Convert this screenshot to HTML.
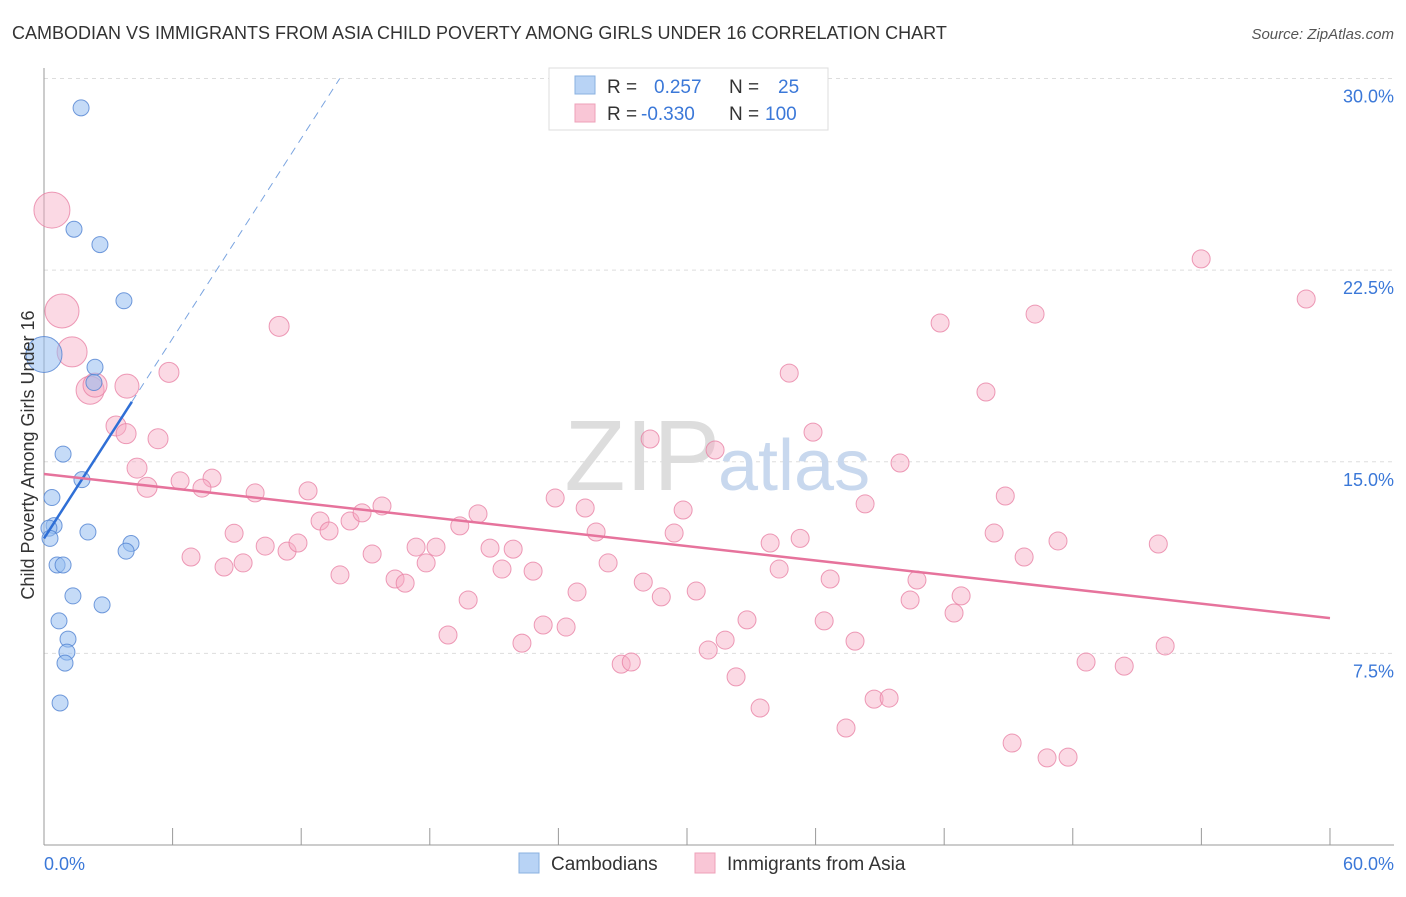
<!DOCTYPE html>
<html><head><meta charset="utf-8">
<style>
body{margin:0;background:#fff;font-family:"Liberation Sans",sans-serif;}
svg text{font-family:"Liberation Sans",sans-serif;}
</style></head>
<body>
<svg id="chart" width="1406" height="892" xmlns="http://www.w3.org/2000/svg">
<text x="12" y="39" font-size="18" fill="#333">CAMBODIAN VS IMMIGRANTS FROM ASIA CHILD POVERTY AMONG GIRLS UNDER 16 CORRELATION CHART</text>
<text x="1394" y="39" font-size="15" fill="#555" font-style="italic" text-anchor="end">Source: ZipAtlas.com</text>
<g id="grid"></g>
<g id="axes"></g>
<text x="720" y="490" font-size="100" fill="#ddd" text-anchor="end" font-family="Liberation Serif">ZIP</text>
<text x="718" y="490" font-size="72" fill="#c8d8ee">atlas</text>
<g id="pink"></g>
<g id="blue"></g>
<g id="trends"></g>
<text transform="translate(34,455) rotate(-90)" font-size="18" fill="#333" text-anchor="middle">Child Poverty Among Girls Under 16</text>
<text x="44" y="870" font-size="18" fill="#3b78d8">0.0%</text>
<text x="1394" y="870" font-size="18" fill="#3b78d8" text-anchor="end">60.0%</text>
<g>
<rect x="549" y="68" width="279" height="62" fill="#fff" stroke="#ddd"/>
<rect x="575" y="76" width="20" height="18" fill="#b8d3f5" stroke="#8ab0e0"/>
<rect x="575" y="104" width="20" height="18" fill="#f9c6d6" stroke="#eea0b8"/>
<text x="607" y="93" font-size="19" fill="#333">R =</text><text x="654" y="93" font-size="19" fill="#3b78d8">0.257</text>
<text x="729" y="93" font-size="19" fill="#333">N =</text><text x="778" y="93" font-size="19" fill="#3b78d8">25</text>
<text x="607" y="120" font-size="19" fill="#333">R =</text><text x="641" y="120" font-size="19" fill="#3b78d8">-0.330</text>
<text x="729" y="120" font-size="19" fill="#333">N =</text><text x="765" y="120" font-size="19" fill="#3b78d8">100</text>
</g>
<g>
<rect x="519" y="853" width="20" height="20" fill="#b8d3f5" stroke="#8ab0e0"/>
<text x="551" y="870" font-size="19" fill="#333">Cambodians</text>
<text x="727" y="870" font-size="19" fill="#333">Immigrants from Asia</text>
<rect x="695" y="853" width="20" height="20" fill="#f9c6d6" stroke="#eea0b8"/>
</g>
</svg>
<script>
const yTicks=[7.5,15,22.5,30];
const xTicks=[0,6,12,18,24,30,36,42,48,54,60];
const blueX=[1.73,1.40,2.61,3.73,0,2.38,2.33,0.89,1.77,0.37,0.47,0.23,0.28,2.05,4.06,3.83,0.61,0.89,1.35,2.71,0.7,1.12,1.07,0.98,0.75];
const blueY=[28.85,24.1,23.5,21.3,19.2,18.7,18.1,15.3,14.3,13.6,12.5,12.4,12.0,12.25,11.8,11.5,10.96,10.96,9.75,9.4,8.77,8.06,7.55,7.12,5.56];
const blueR=[8,8,8,8,18,8,8,8,8,8,8,8,8,8,8,8,8,8,8,8,8,8,8,8,8];
const pinkX=[0.37,0.84,1.31,2.15,3.87,2.38,3.36,3.83,5.83,10.97,5.32,4.34,4.81,6.35,7.84,7.37,9.85,12.32,8.87,6.86,8.4,9.29,10.32,11.34,11.85,12.88,13.3,14.28,14.84,15.77,13.81,15.31,16.38,16.85,17.36,17.83,18.29,18.85,19.79,19.4,20.25,20.81,21.37,21.89,22.3,22.82,23.29,23.85,24.36,24.87,25.25,25.76,26.32,26.93,27.4,27.96,28.28,28.8,29.4,29.82,30.43,30.99,31.31,31.78,32.29,32.8,33.41,33.88,34.3,34.77,35.28,35.88,36.4,36.68,37.42,37.84,38.31,38.73,39.43,39.94,40.41,40.73,41.81,42.46,42.79,43.95,44.33,44.85,45.17,45.73,46.24,46.8,47.31,47.78,48.62,50.4,51.99,52.31,53.99,58.89];
const pinkY=[24.85,20.9,19.3,17.8,17.96,18.0,16.4,16.1,18.5,20.3,15.9,14.75,14.0,14.25,14.36,13.97,13.78,13.86,12.2,11.27,10.88,11.04,11.7,11.5,11.82,12.68,12.29,12.68,13.0,13.27,10.57,11.39,10.41,10.25,11.66,11.04,11.66,8.22,9.59,12.49,12.96,11.62,10.8,11.58,7.9,10.72,8.61,13.58,8.53,9.9,13.19,12.25,11.04,7.08,7.16,10.29,15.89,9.71,12.21,13.11,9.94,7.63,15.46,8.02,6.58,8.81,5.36,11.82,10.8,18.47,12.0,16.16,8.77,10.41,4.58,7.98,13.35,5.71,5.75,14.95,9.59,10.37,20.43,9.08,9.75,17.73,12.21,13.66,3.99,11.27,20.78,3.41,11.9,3.44,7.16,7.0,11.78,7.79,22.94,21.37];
const pinkBig=[18,17,15,14,12,12,10,10,10,10,10,10,10];
const blueTrend=[0,12.0,13.8,30];
const pinkTrend=[0,14.52,60,8.88];
const NS='http://www.w3.org/2000/svg';
const sx=v=>44+v*21.433;
const sy=v=>845-v*25.55;
function mk(t,a,p){const e=document.createElementNS(NS,t);for(const k in a)e.setAttribute(k,a[k]);p.appendChild(e);return e;}
const grid=document.getElementById('grid'),axes=document.getElementById('axes');
yTicks.forEach(t=>{
 const l=mk('line',{x1:44,x2:1394,y1:sy(t),y2:sy(t),stroke:'#ddd','stroke-dasharray':'4,4'},grid);
 
 
 const tx=mk('text',{x:1394,y:sy(t)+24,'font-size':18,fill:'#3b78d8','text-anchor':'end'},axes);
 tx.textContent=t.toFixed(1)+'%';
 
 
});
mk('line',{x1:44,x2:44,y1:68,y2:845,stroke:'#999'},axes);
mk('line',{x1:44,x2:1394,y1:845,y2:845,stroke:'#999'},axes);
xTicks.forEach(t=>{
 const l=mk('line',{x1:sx(t),x2:sx(t),y1:828,y2:845,stroke:'#999'},axes);
 
 
});
const pg=document.getElementById('pink');
pinkX.forEach((x,i)=>{
 const c=mk('circle',{cx:sx(x),cy:sy(pinkY[i]),r:i<pinkBig.length?pinkBig[i]:9,fill:'rgba(246,170,195,0.45)',stroke:'rgba(232,130,165,0.8)','stroke-width':1},pg);
 
 
});
const bg=document.getElementById('blue');
blueX.forEach((x,i)=>{
 const c=mk('circle',{cx:sx(x),cy:sy(blueY[i]),r:blueR[i],fill:'rgba(150,190,240,0.55)',stroke:'rgba(80,130,210,0.8)','stroke-width':1},bg);
 
 
});
const tg=document.getElementById('trends');
const bSlope=(blueTrend[3]-blueTrend[1])/(blueTrend[2]-blueTrend[0]);
const b1=mk('line',{x1:sx(0),y1:sy(blueTrend[1]),x2:sx(4.1),y2:sy(blueTrend[1]+bSlope*4.1),stroke:'#2f6fd6','stroke-width':2.5},tg);


const b2=mk('line',{x1:sx(4.1),y1:sy(blueTrend[1]+bSlope*4.1),x2:sx(blueTrend[2]),y2:sy(blueTrend[3]),stroke:'#7aa4e0','stroke-width':1,'stroke-dasharray':'8,6'},tg);


const p1=mk('line',{x1:sx(pinkTrend[0]),y1:sy(pinkTrend[1]),x2:sx(pinkTrend[2]),y2:sy(pinkTrend[3]),stroke:'#e6739c','stroke-width':2.5},tg);


</script>
</body></html>
